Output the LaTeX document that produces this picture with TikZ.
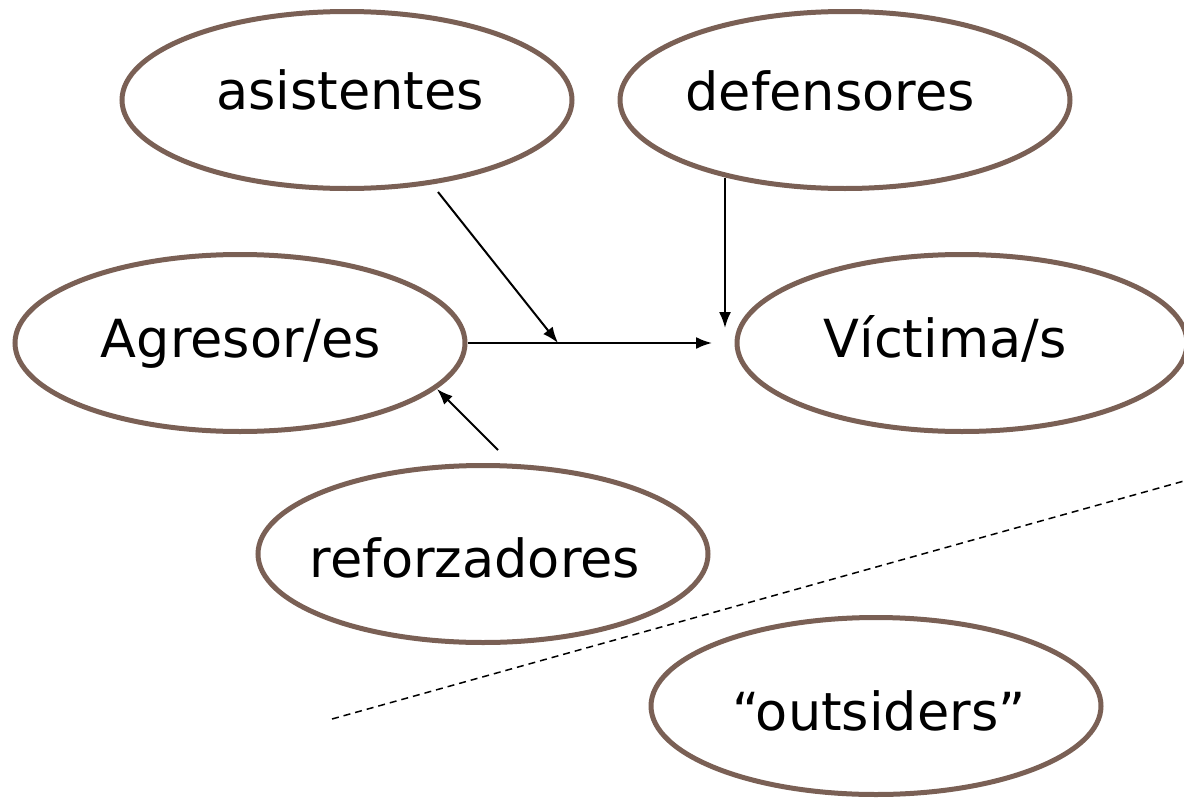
\documentclass[tikz,border=0pt]{standalone}
\usepackage{fontspec}
\setmainfont{DejaVu Sans}
\usetikzlibrary{shapes.geometric,arrows.meta}
\definecolor{rim}{HTML}{7A6055}
\tikzset{
  role/.style={ellipse, draw=rim, line width=5pt, inner sep=0pt,
    minimum width=450pt, minimum height=177pt},
  tag/.style={anchor=base, inner sep=0pt, font=\fontsize{52.5}{60}\selectfont},
  link/.style={line width=2pt, -{Latex[length=16pt,width=12pt]}}
}
\begin{document}
\begin{tikzpicture}[x=1pt,y=-1pt]
\useasboundingbox (0,0) rectangle (1184,798);
\node[role] (asis) at (347,100) {};
\node[role] (def) at (845,100) {};
\node[role] (agr) at (240,343) {};
\node[role] (vic) at (962,343) {};
\node[role] (ref) at (483,554) {};
\node[role] (out) at (876,706) {};
\node[tag] (asisT) at (350,109) {asistentes};
\node[tag] (defT) at (830,110) {defensores};
\node[tag] (agrT) at (241,357) {Agresor/es};
\node[tag] (vicT) at (945,357) {Víctima/s};
\node[tag] (refT) at (475,577) {reforzadores};
\node[tag] (outT) at (879,730) {“outsiders”};
\coordinate (vtip) at (712,343);
\coordinate (mid) at (558,343);
\coordinate (asisfoot) at (438,192);
\coordinate (deffoot) at (725,178);
\coordinate (deftip) at (725,328);
\coordinate (reftop) at (498,450);
\coordinate (agrtip) at (437,389);
\coordinate (dashA) at (332,719);
\coordinate (dashB) at (1184,481);
\draw[link] (agr.east) -- (vtip);
\draw[link] (asisfoot) -- (mid);
\draw[link] (deffoot) -- (deftip);
\draw[link] (reftop) -- (agrtip);
\draw[line width=1.5pt, dash pattern=on 7pt off 5pt] (dashA) -- (dashB);
\end{tikzpicture}
\end{document}
